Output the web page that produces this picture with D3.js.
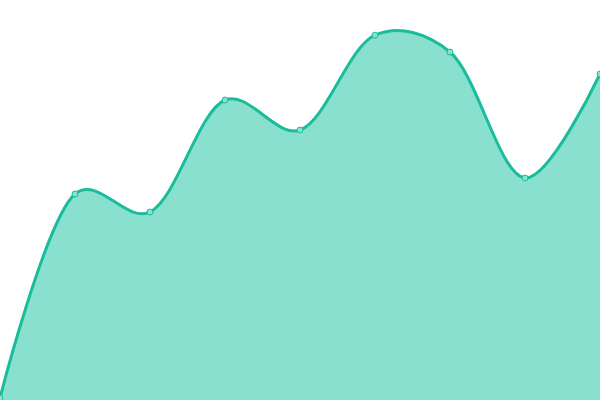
<!DOCTYPE html>
<html>
<head>
<meta charset="utf-8">
<script src="https://cdn.jsdelivr.net/npm/d3@7"></script>
<style>
  body { margin: 0; background: #fff; }
  svg { display: block; }
</style>
</head>
<body>
<svg id="chart"></svg>
<script>
const steps = [0, 1, 2, 3, 4, 5, 6, 7, 8];
const values = [0.5, 51.5, 47, 75, 67.5, 91.2, 87, 55.5, 81.5];

const width = 600;
const height = 400;

const svg = d3.select('#chart')
  .attr('width', width)
  .attr('height', height);

const x = d3.scaleLinear()
  .domain([0, steps.length - 1])
  .range([0, width]);

const y = d3.scaleLinear()
  .domain([0, 100])
  .range([height, 0]);

const data = steps.map((s, i) => ({ s, v: values[i] }));

const curve = d3.curveCatmullRom.alpha(0.25);

const area = d3.area()
  .x(d => x(d.s))
  .y0(height)
  .y1(d => y(d.v))
  .curve(curve);

const line = d3.line()
  .x(d => x(d.s))
  .y(d => y(d.v))
  .curve(curve);

svg.append('path')
  .datum(data)
  .attr('d', area)
  .style('fill', '#89e0cf');

svg.append('path')
  .datum(data)
  .attr('d', line)
  .style('fill', 'none')
  .style('stroke', '#1abc9c')
  .style('stroke-width', 3);

// points
svg.selectAll('circle')
  .data(data)
  .enter()
  .append('circle')
  .attr('cx', d => x(d.s))
  .attr('cy', d => y(d.v))
  .attr('r', 3)
  .style('fill', '#89e0cf')
  .style('stroke', '#1abc9c')
  .style('stroke-width', 1);
</script>
</body>
</html>
